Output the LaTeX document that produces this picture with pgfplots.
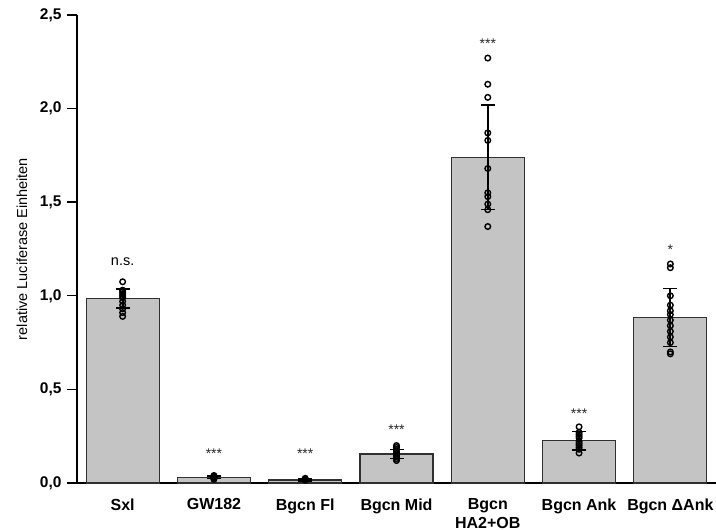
\documentclass[border=0pt]{standalone}
\usepackage{fontspec}
\setmainfont{Liberation Sans}
\usepackage{pgfplots}
\pgfplotsset{compat=1.18}
\definecolor{barfill}{HTML}{C4C4C4}
\definecolor{baredge}{HTML}{303030}
\begin{document}
\begin{tikzpicture}
\useasboundingbox (-77pt,-47pt) rectangle (639pt,483pt);
\begin{axis}[
  scale only axis,
  width=639pt, height=468pt,
  xmin=-0.5, xmax=6.5,
  ymin=0, ymax=2.5,
  axis x line*=bottom,
  axis y line*=left,
  axis line style={line width=1.6pt, black},
  xtick={0,1,2,3,4,5,6},
  xticklabels={Sxl, GW182, Bgcn Fl, Bgcn Mid, {Bgcn\\HA2+OB}, Bgcn Ank, Bgcn ΔAnk},
  x tick label style={font=\fontsize{16}{18.5}\selectfont\bfseries, align=center, yshift=-2pt, anchor=north},
  major x tick style={draw=none},
  ytick={0,0.5,1,1.5,2,2.5},
  y tick label style={font=\fontsize{15.5}{17}\selectfont\bfseries, xshift=-2pt},
  yticklabel style={/pgf/number format/.cd, fixed, fixed zerofill, precision=1, use comma, assume math mode=true},
  tick align=outside,
  major tick length=10pt,
  major y tick style={line width=1.4pt, black},
  ylabel={relative Luciferase Einheiten},
  ylabel style={font=\fontsize{14.5}{16}\selectfont, at={(axis description cs:0,0.5)}, yshift=55pt, anchor=center},
  clip=false,
]
% bars
\addplot[ybar, bar width=0.8, fill=barfill, draw=baredge, line width=1.1pt] coordinates {
  (0,0.985) (1,0.030) (2,0.016) (3,0.155) (4,1.740) (5,0.225) (6,0.885)
};
% individual points
\addplot[only marks, mark=o, mark size=2.8pt, mark options={line width=1.4pt, fill=white, draw=black}] coordinates {
  (0,1.075) (0,1.030) (0,1.020) (0,1.010) (0,1.000) (0,0.990) (0,0.970) (0,0.950) (0,0.930) (0,0.910) (0,0.890)
  (1,0.040) (1,0.035) (1,0.030) (1,0.030) (1,0.025) (1,0.020)
  (2,0.025) (2,0.020) (2,0.018) (2,0.015)
  (3,0.200) (3,0.190) (3,0.180) (3,0.170) (3,0.160) (3,0.155) (3,0.150) (3,0.140) (3,0.130) (3,0.120)
  (4,2.270) (4,2.130) (4,2.060) (4,1.870) (4,1.830) (4,1.680) (4,1.550) (4,1.530) (4,1.490) (4,1.460) (4,1.370)
  (5,0.300) (5,0.270) (5,0.260) (5,0.250) (5,0.240) (5,0.220) (5,0.210) (5,0.200) (5,0.190) (5,0.180) (5,0.160)
  (6,1.170) (6,1.150) (6,1.000) (6,0.950) (6,0.920) (6,0.900) (6,0.870) (6,0.840) (6,0.810) (6,0.780) (6,0.750) (6,0.700) (6,0.690)
};
% error bars
\addplot[draw=none, mark=none,
  error bars/.cd, y dir=both, y explicit,
  error bar style={line width=1.8pt, black},
  error mark options={rotate=90, mark size=7pt, line width=1.6pt, black}]
  coordinates {
  (0,0.985) +- (0,0.050)
  (1,0.030) +- (0,0.006)
  (2,0.016) +- (0,0.004)
  (3,0.155) +- (0,0.025)
  (4,1.740) +- (0,0.280)
  (5,0.225) +- (0,0.050)
  (6,0.885) +- (0,0.155)
};
% significance labels
\tikzset{sig/.style={font=\fontsize{14}{16}\selectfont, anchor=center, text=black!85}}
\node[font=\fontsize{14.5}{16}\selectfont] at (axis cs:0,1.18) {n.s.};
\node[sig] at (axis cs:1,0.155) {***};
\node[sig] at (axis cs:2,0.155) {***};
\node[sig] at (axis cs:3,0.285) {***};
\node[sig] at (axis cs:4,2.345) {***};
\node[sig] at (axis cs:5,0.37) {***};
\node[sig] at (axis cs:6,1.245) {*};
\end{axis}
\end{tikzpicture}
\end{document}
